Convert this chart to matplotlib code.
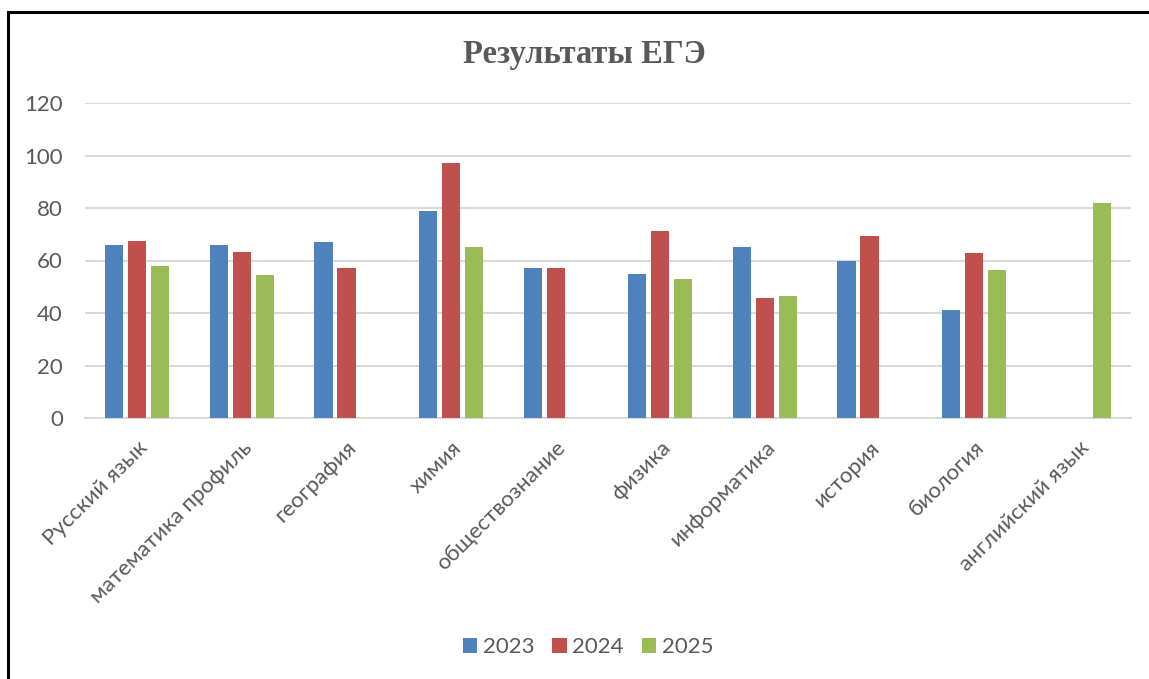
import numpy as np
import matplotlib
matplotlib.use("Agg")
import matplotlib.pyplot as plt
from matplotlib.lines import Line2D

# data
subjects = ["Русский язык", "математика профиль", "география", "химия",
            "обществознание", "физика", "информатика", "история",
            "биология", "английский язык"]
years = ["2023", "2024", "2025"]
res_2023 = [66, 66, 67, 79, 57.3, 55, 65, 60, 41.3, np.nan]
res_2024 = [67.4, 63.2, 57, 97, 57, 71.2, 45.9, 69.3, 63, np.nan]
res_2025 = [58, 54.5, np.nan, 65, np.nan, 52.9, 46.3, np.nan, 56.3, 82]
yticks = [0, 20, 40, 60, 80, 100, 120]

colors = ["#4F81BD", "#C0504D", "#9BBB59"]
txt_col = "#595959"

plt.rcParams["font.family"] = ["Lato", "DejaVu Sans"]

fig = plt.figure(figsize=(11.49, 6.79), dpi=100)
ax = fig.add_axes([85 / 1149, 1 - 418 / 679, (1131 - 85) / 1149, (418 - 103) / 679])

x = np.arange(len(subjects))
slot = 0.22
for i, (vals, yr) in enumerate(zip([res_2023, res_2024, res_2025], years)):
    ax.bar(x + (i - 1) * slot, vals, width=0.173, color=colors[i], label=yr, zorder=3)

ax.set_xlim(-0.5, len(subjects) - 0.5)
ax.set_ylim(0, 120)
ax.set_yticks(yticks)
ax.yaxis.grid(True, color="#D9D9D9", linewidth=1.5, zorder=0)
ax.set_axisbelow(True)
for s in ["left", "right", "top"]:
    ax.spines[s].set_visible(False)
ax.spines["bottom"].set_color("#D9D9D9")
ax.spines["bottom"].set_linewidth(1.5)
ax.tick_params(axis="both", length=0, labelsize=16, labelcolor=txt_col)
ax.tick_params(axis="y", pad=16)
ax.tick_params(axis="x", pad=14)
ax.set_xticks(x)
ax.set_xticklabels(subjects, rotation=45, ha="right", va="top", rotation_mode="anchor")

fig.text(584 / 1149, 1 - 55 / 679, "Результаты ЕГЭ", ha="center", va="center",
         fontsize=23.5, fontweight="bold", color=txt_col, family="Liberation Serif")

fig.legend(loc="center", bbox_to_anchor=(588 / 1149, 1 - 647 / 679), ncol=3,
           frameon=False, fontsize=16, labelcolor=txt_col,
           handlelength=0.65, handleheight=0.65, handletextpad=0.25, columnspacing=0.8)

# black frame around the chart (cut off at right and bottom)
bx, by = 8 / 1149, 1 - 12 / 679
fig.add_artist(Line2D([bx, bx], [0, by], color="black", linewidth=2.2, transform=fig.transFigure))
fig.add_artist(Line2D([bx, 1], [by, by], color="black", linewidth=2.2, transform=fig.transFigure))

fig.savefig("out.png", dpi=100)
